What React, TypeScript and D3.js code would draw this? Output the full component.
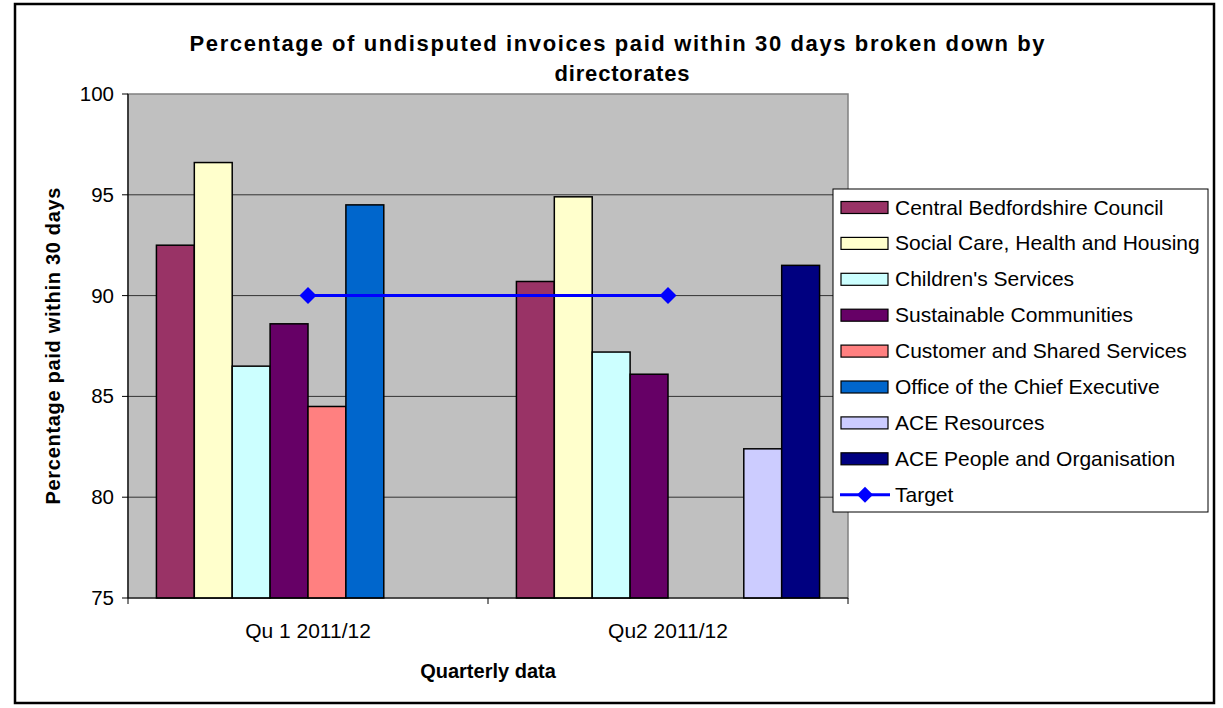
import React from "react";
import * as d3 from "d3";

const categories = ["Qu 1 2011/12", "Qu2 2011/12"];
const seriesNames = [
  "Central Bedfordshire Council",
  "Social Care, Health and Housing",
  "Children's Services",
  "Sustainable Communities",
  "Customer and Shared Services",
  "Office of the Chief Executive",
  "ACE Resources",
  "ACE People and Organisation",
];
const seriesColors = ["#993366", "#FFFFCC", "#CCFFFF", "#660066", "#FF8080", "#0066CC", "#CCCCFF", "#000080"];
const q1Values: (number | null)[] = [92.5, 96.6, 86.5, 88.6, 84.5, 94.5, null, null];
const q2Values: (number | null)[] = [90.7, 94.9, 87.2, 86.1, null, null, 82.4, 91.5];
const targetValues = [90, 90];
const yTicks = [75, 80, 85, 90, 95, 100];

const W = 1223, H = 708;
const plot = { x0: 128, x1: 848, y0: 94, y1: 598 };
const FONT = "'Liberation Sans', Arial, sans-serif";

export default function App() {
  const x = d3.scaleBand<string>().domain(categories).range([plot.x0, plot.x1]).paddingInner(0).paddingOuter(0);
  const xs = d3.scaleBand<string>().domain(seriesNames).range([0, x.bandwidth()]).paddingInner(0).paddingOuter(0.75);
  const y = d3.scaleLinear().domain([75, 100]).range([plot.y1, plot.y0]);
  const values = [q1Values, q2Values];
  const line = d3.line<number>().x((_, i) => x(categories[i])! + x.bandwidth() / 2).y((d) => y(d));

  const legendX = 833, legendY = 189, legendW = 375, legendH = 323;
  const rowY0 = 207.5, rowStep = 35.9;

  return (
    <svg width={W} height={H} style={{ position: "absolute", left: 0, top: 0, background: "#fff" }} fontFamily={FONT}>
      <rect x={15} y={4} width={1199} height={699} fill="#fff" stroke="#000" strokeWidth={2.5} />
      <text x={617} y={51} textAnchor="middle" fontWeight="bold" fontSize={22} textLength={855} lengthAdjust="spacing">
        Percentage of undisputed invoices paid within 30 days broken down by
      </text>
      <text x={622} y={81} textAnchor="middle" fontWeight="bold" fontSize={22} textLength={135} lengthAdjust="spacing">
        directorates
      </text>
      <rect x={plot.x0} y={plot.y0} width={plot.x1 - plot.x0} height={plot.y1 - plot.y0} fill="#C0C0C0" stroke="#808080" strokeWidth={1.5} />
      {yTicks.slice(1, -1).map((t) => (
        <line key={"g" + t} x1={plot.x0} x2={plot.x1} y1={y(t)} y2={y(t)} stroke="#333" strokeWidth={1} />
      ))}
      {values.map((vals, ci) =>
        vals.map((v, si) =>
          v == null ? null : (
            <rect
              key={ci + "-" + si}
              x={x(categories[ci])! + xs(seriesNames[si])!}
              y={y(v)}
              width={xs.bandwidth()}
              height={y(75) - y(v)}
              fill={seriesColors[si]}
              stroke="#000"
              strokeWidth={1.5}
            />
          )
        )
      )}
      <line x1={plot.x0} x2={plot.x0} y1={plot.y0} y2={plot.y1} stroke="#000" strokeWidth={1.2} />
      <line x1={plot.x0} x2={plot.x1} y1={plot.y1} y2={plot.y1} stroke="#000" strokeWidth={1.2} />
      {yTicks.map((t) => (
        <g key={"t" + t}>
          <line x1={plot.x0 - 6} x2={plot.x0} y1={y(t)} y2={y(t)} stroke="#000" strokeWidth={1} />
          <text x={114} y={y(t) + 7} textAnchor="end" fontSize={20.5}>{t}</text>
        </g>
      ))}
      {[plot.x0, plot.x0 + x.bandwidth(), plot.x1].map((px, i) => (
        <line key={"xt" + i} x1={px} x2={px} y1={plot.y1} y2={plot.y1 + 6} stroke="#000" strokeWidth={1} />
      ))}
      {categories.map((c) => (
        <text key={c} x={x(c)! + x.bandwidth() / 2} y={638} textAnchor="middle" fontSize={21}>{c}</text>
      ))}
      <path d={line(targetValues) || ""} fill="none" stroke="#0000FF" strokeWidth={3} />
      {targetValues.map((v, i) => {
        const cx = x(categories[i])! + x.bandwidth() / 2, cy = y(v);
        return <path key={"m" + i} d={`M${cx},${cy - 8.5}L${cx + 8.5},${cy}L${cx},${cy + 8.5}L${cx - 8.5},${cy}Z`} fill="#0000FF" />;
      })}
      <text x={488} y={678} textAnchor="middle" fontWeight="bold" fontSize={20}>Quarterly data</text>
      <text transform={`translate(60,${(plot.y0 + plot.y1) / 2}) rotate(-90)`} textAnchor="middle" fontWeight="bold" fontSize={20} textLength={317} lengthAdjust="spacing">
        Percentage paid within 30 days
      </text>
      <rect x={legendX} y={legendY} width={legendW} height={legendH} fill="#fff" stroke="#000" strokeWidth={1} />
      {seriesNames.map((s, i) => (
        <g key={"l" + i}>
          <rect x={841} y={rowY0 + i * rowStep - 6} width={47} height={12} fill={seriesColors[i]} stroke="#000" strokeWidth={1.2} />
          <text x={895} y={rowY0 + i * rowStep + 7} fontSize={21}>{s}</text>
        </g>
      ))}
      <g>
        <line x1={840} x2={890} y1={rowY0 + 8 * rowStep} y2={rowY0 + 8 * rowStep} stroke="#0000FF" strokeWidth={3} />
        <path d={`M865,${rowY0 + 8 * rowStep - 8}L873,${rowY0 + 8 * rowStep}L865,${rowY0 + 8 * rowStep + 8}L857,${rowY0 + 8 * rowStep}Z`} fill="#0000FF" />
        <text x={895} y={rowY0 + 8 * rowStep + 7} fontSize={21}>Target</text>
      </g>
    </svg>
  );
}
